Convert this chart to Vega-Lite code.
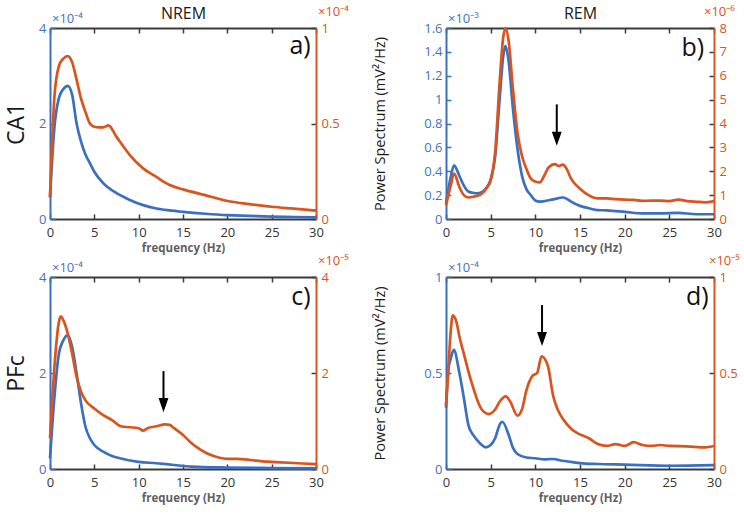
{
  "$schema": "https://vega.github.io/schema/vega-lite/v6.json",
  "background": "white",
  "padding": 5,
  "config": {
    "view": {"stroke": null},
    "font": "Open Sans",
    "axis": {
      "labelFont": "Open Sans",
      "titleFont": "Open Sans",
      "labelFontSize": 13,
      "domainWidth": 2,
      "tickWidth": 1.5,
      "tickSize": -5,
      "labelPadding": 9,
      "grid": false,
      "labelFlush": false,
      "labelOverlap": false
    }
  },
  "datasets": {
    "a_b": [
      {"f":0,"p":0.45},{"f":0.5,"p":1.93},{"f":1,"p":2.53},{"f":1.5,"p":2.72},{"f":2,"p":2.79},{"f":2.5,"p":2.6},{"f":3,"p":2.0},{"f":3.5,"p":1.62},{"f":4,"p":1.35},{"f":4.5,"p":1.17},{"f":5,"p":0.99},{"f":6,"p":0.75},{"f":7.5,"p":0.54},{"f":9,"p":0.4},{"f":10.5,"p":0.29},{"f":12,"p":0.22},{"f":13.5,"p":0.18},{"f":15,"p":0.15},{"f":17.5,"p":0.11},{"f":20,"p":0.08},{"f":22.5,"p":0.065},{"f":25,"p":0.05},{"f":27.5,"p":0.042},{"f":30,"p":0.035}
    ],
    "a_o": [
      {"f":0,"p":0.116},{"f":0.5,"p":0.64},{"f":1,"p":0.8},{"f":1.5,"p":0.84},{"f":2,"p":0.853},{"f":2.5,"p":0.82},{"f":3,"p":0.73},{"f":3.5,"p":0.63},{"f":4,"p":0.56},{"f":4.5,"p":0.5},{"f":5,"p":0.483},{"f":5.5,"p":0.48},{"f":6,"p":0.48},{"f":6.6,"p":0.49},{"f":7.5,"p":0.43},{"f":9,"p":0.335},{"f":10.5,"p":0.265},{"f":12,"p":0.22},{"f":13.5,"p":0.178},{"f":15,"p":0.155},{"f":17.5,"p":0.125},{"f":20,"p":0.094},{"f":22.5,"p":0.078},{"f":25,"p":0.064},{"f":27.5,"p":0.054},{"f":30,"p":0.044}
    ],
    "b_b": [
      {"f":0,"p":0.13},{"f":0.5,"p":0.34},{"f":0.9,"p":0.45},{"f":1.5,"p":0.36},{"f":2,"p":0.28},{"f":2.5,"p":0.23},{"f":3,"p":0.22},{"f":3.5,"p":0.215},{"f":4,"p":0.225},{"f":4.5,"p":0.26},{"f":5,"p":0.33},{"f":5.5,"p":0.52},{"f":6,"p":1.0},{"f":6.4,"p":1.36},{"f":6.65,"p":1.45},{"f":7,"p":1.33},{"f":7.5,"p":0.92},{"f":8,"p":0.59},{"f":8.5,"p":0.365},{"f":9,"p":0.25},{"f":9.5,"p":0.2},{"f":10,"p":0.155},{"f":10.5,"p":0.145},{"f":11,"p":0.15},{"f":12,"p":0.165},{"f":13.1,"p":0.18},{"f":13.5,"p":0.17},{"f":14,"p":0.145},{"f":15,"p":0.11},{"f":16,"p":0.09},{"f":17,"p":0.075},{"f":18,"p":0.072},{"f":20,"p":0.06},{"f":22,"p":0.047},{"f":24,"p":0.047},{"f":26,"p":0.052},{"f":28,"p":0.04},{"f":30,"p":0.04}
    ],
    "b_o": [
      {"f":0,"p":0.58},{"f":0.5,"p":1.35},{"f":0.9,"p":1.9},{"f":1.5,"p":1.34},{"f":2,"p":1.0},{"f":2.5,"p":0.9},{"f":3,"p":0.93},{"f":3.5,"p":0.97},{"f":4,"p":1.06},{"f":4.5,"p":1.27},{"f":5,"p":1.62},{"f":5.5,"p":2.79},{"f":6,"p":5.69},{"f":6.4,"p":7.6},{"f":6.65,"p":8.0},{"f":7,"p":7.49},{"f":7.5,"p":5.41},{"f":8,"p":3.62},{"f":8.5,"p":2.65},{"f":9,"p":2.1},{"f":9.5,"p":1.69},{"f":10,"p":1.57},{"f":10.5,"p":1.53},{"f":11,"p":1.82},{"f":11.5,"p":2.17},{"f":12.2,"p":2.3},{"f":12.6,"p":2.22},{"f":13.1,"p":2.28},{"f":13.5,"p":2.1},{"f":14,"p":1.69},{"f":15,"p":1.27},{"f":16,"p":0.99},{"f":17,"p":0.86},{"f":18,"p":0.86},{"f":19,"p":0.83},{"f":20,"p":0.81},{"f":21,"p":0.8},{"f":22,"p":0.76},{"f":23,"p":0.77},{"f":24,"p":0.77},{"f":25,"p":0.75},{"f":26,"p":0.81},{"f":27,"p":0.75},{"f":28,"p":0.72},{"f":29,"p":0.7},{"f":30,"p":0.75}
    ],
    "c_b": [
      {"f":0,"p":0.22},{"f":0.5,"p":1.5},{"f":1,"p":2.4},{"f":1.5,"p":2.68},{"f":2,"p":2.79},{"f":2.5,"p":2.54},{"f":3,"p":1.99},{"f":3.5,"p":1.37},{"f":4,"p":0.88},{"f":4.5,"p":0.64},{"f":5,"p":0.5},{"f":6,"p":0.36},{"f":7,"p":0.27},{"f":8,"p":0.22},{"f":10,"p":0.15},{"f":12,"p":0.12},{"f":14,"p":0.083},{"f":16,"p":0.05},{"f":20,"p":0.03},{"f":25,"p":0.02},{"f":30,"p":0.014}
    ],
    "c_o": [
      {"f":0,"p":0.64},{"f":0.5,"p":2.13},{"f":1,"p":3.06},{"f":1.2,"p":3.18},{"f":1.5,"p":3.1},{"f":2,"p":2.82},{"f":2.5,"p":2.4},{"f":3,"p":1.92},{"f":3.5,"p":1.61},{"f":4,"p":1.43},{"f":5,"p":1.26},{"f":6,"p":1.12},{"f":7,"p":1.02},{"f":8,"p":0.89},{"f":9,"p":0.87},{"f":10,"p":0.85},{"f":10.5,"p":0.8},{"f":11,"p":0.85},{"f":12,"p":0.89},{"f":13,"p":0.93},{"f":13.5,"p":0.92},{"f":14,"p":0.85},{"f":15,"p":0.71},{"f":16,"p":0.53},{"f":17,"p":0.4},{"f":18,"p":0.3},{"f":19,"p":0.24},{"f":20,"p":0.21},{"f":21,"p":0.21},{"f":22,"p":0.2},{"f":23,"p":0.18},{"f":24,"p":0.16},{"f":25,"p":0.15},{"f":27,"p":0.13},{"f":30,"p":0.1}
    ],
    "d_b": [
      {"f":0,"p":0.32},{"f":0.3,"p":0.53},{"f":0.5,"p":0.57},{"f":0.87,"p":0.62},{"f":1.5,"p":0.5},{"f":2,"p":0.37},{"f":2.5,"p":0.23},{"f":3,"p":0.18},{"f":3.5,"p":0.15},{"f":4,"p":0.125},{"f":4.4,"p":0.113},{"f":5,"p":0.125},{"f":5.5,"p":0.16},{"f":6,"p":0.23},{"f":6.3,"p":0.246},{"f":7,"p":0.18},{"f":7.5,"p":0.11},{"f":8,"p":0.078},{"f":9,"p":0.06},{"f":10,"p":0.056},{"f":11,"p":0.05},{"f":12,"p":0.052},{"f":13,"p":0.043},{"f":14,"p":0.037},{"f":15,"p":0.031},{"f":17,"p":0.026},{"f":20,"p":0.023},{"f":25,"p":0.017},{"f":30,"p":0.02}
    ],
    "d_o": [
      {"f":0,"p":0.33},{"f":0.3,"p":0.55},{"f":0.5,"p":0.7},{"f":0.75,"p":0.8},{"f":1.2,"p":0.76},{"f":1.5,"p":0.69},{"f":2,"p":0.6},{"f":2.5,"p":0.51},{"f":3,"p":0.43},{"f":3.5,"p":0.36},{"f":4,"p":0.31},{"f":4.8,"p":0.286},{"f":5.5,"p":0.31},{"f":6,"p":0.35},{"f":6.7,"p":0.378},{"f":7.2,"p":0.35},{"f":8,"p":0.278},{"f":8.5,"p":0.31},{"f":9,"p":0.41},{"f":9.7,"p":0.486},{"f":10.2,"p":0.5},{"f":10.7,"p":0.587},{"f":11.4,"p":0.538},{"f":12,"p":0.38},{"f":12.5,"p":0.31},{"f":13.1,"p":0.26},{"f":14,"p":0.21},{"f":14.6,"p":0.19},{"f":16,"p":0.16},{"f":17,"p":0.13},{"f":18,"p":0.12},{"f":19,"p":0.13},{"f":20,"p":0.12},{"f":21,"p":0.14},{"f":22,"p":0.125},{"f":23,"p":0.12},{"f":24,"p":0.125},{"f":25,"p":0.12},{"f":27,"p":0.118},{"f":29,"p":0.113},{"f":30,"p":0.12}
    ]
  },
  "columns": 2,
  "spacing": {"row": 58, "column": 130},
  "bounds": "flush",
  "concat": [
    {
      "width": 266, "height": 191,
      "resolve": {"scale": {"y": "independent"}, "axis": {"x": "independent"}},
      "layer": [
        {
          "layer": [
            {
              "data": {"name": "a_b"},
              "mark": {"type": "line", "color": "#3B6FBF", "strokeWidth": 2.7, "interpolate": "monotone"},
              "encoding": {
                "x": {"field": "f", "type": "quantitative", "scale": {"domain": [0, 30], "nice": false},
                  "axis": {"orient": "bottom", "values": [0,5,10,15,20,25,30], "tickCount": 10, "title": "frequency (Hz)", "domainColor": "#3b3b3b", "tickColor": "#3b3b3b", "labelColor": "#333333", "titleColor": "#5f5f5f", "titleFontWeight": "bold", "titleFontSize": 11.5, "titlePadding": 3, "labelPadding": 12, "labelOverlap": false}},
                "y": {"field": "p", "type": "quantitative", "scale": {"domain": [0, 4], "nice": false},
                  "axis": {"orient": "left", "values": [0,2,4], "tickCount": 10, "format": "~g", "title": "CA1", "titleFontSize": 23, "titleFontWeight": "normal", "titleColor": "#1a1a1a", "titlePadding": 10, "domainColor": "#3B6FBF", "tickColor": "#3B6FBF", "labelColor": "#4472C0", "labelOverlap": false}}
              }
            },
            {
              "data": {"values": [{"f": 29.4, "p": 3.62, "t": "a)"}]},
              "mark": {"type": "text", "align": "right", "baseline": "middle", "fontSize": 25, "color": "#111111"},
              "encoding": {"x": {"field": "f", "type": "quantitative"}, "y": {"field": "p", "type": "quantitative"}, "text": {"field": "t"}}
            },
            {
              "data": {"values": [{"f": 0, "p": 4, "t": "×10⁻⁴"}]},
              "mark": {"type": "text", "align": "left", "baseline": "alphabetic", "dx": 2, "dy": -5, "fontSize": 13, "color": "#4472C0"},
              "encoding": {"x": {"field": "f", "type": "quantitative"}, "y": {"field": "p", "type": "quantitative"}, "text": {"field": "t"}}
            }
          ]
        },
        {
          "layer": [
            {
              "data": {"name": "a_o"},
              "mark": {"type": "line", "color": "#D9541E", "strokeWidth": 2.7, "interpolate": "monotone"},
              "encoding": {
                "x": {"field": "f", "type": "quantitative", "scale": {"domain": [0, 30], "nice": false},
                  "axis": {"orient": "top", "values": [0,5,10,15,20,25,30], "tickCount": 10, "labels": false, "title": "NREM", "titleFontSize": 16, "titleFontWeight": "normal", "titleColor": "#1a1a1a", "titlePadding": 6, "domainColor": "#3b3b3b", "tickColor": "#3b3b3b"}},
                "y": {"field": "p", "type": "quantitative", "scale": {"domain": [0, 1], "nice": false},
                  "axis": {"orient": "right", "values": [0,0.5,1], "tickCount": 10, "format": "~g", "title": null, "domainColor": "#D9541E", "tickColor": "#3b3b3b", "labelColor": "#D9541E", "labelPadding": 10, "labelOverlap": false}}
              }
            },
            {
              "data": {"values": [{"f": 30, "p": 1, "t": "×10⁻⁴"}]},
              "mark": {"type": "text", "align": "left", "baseline": "alphabetic", "dx": 2, "dy": -12, "fontSize": 13, "color": "#D9541E"},
              "encoding": {"x": {"field": "f", "type": "quantitative"}, "y": {"field": "p", "type": "quantitative"}, "text": {"field": "t"}}
            }
          ]
        }
      ]
    },
    {
      "width": 268, "height": 191,
      "resolve": {"scale": {"y": "independent"}, "axis": {"x": "independent"}},
      "layer": [
        {
          "layer": [
            {
              "data": {"name": "b_b"},
              "mark": {"type": "line", "color": "#3B6FBF", "strokeWidth": 2.7, "interpolate": "monotone"},
              "encoding": {
                "x": {"field": "f", "type": "quantitative", "scale": {"domain": [0, 30], "nice": false},
                  "axis": {"orient": "bottom", "values": [0,5,10,15,20,25,30], "tickCount": 10, "title": "frequency (Hz)", "domainColor": "#3b3b3b", "tickColor": "#3b3b3b", "labelColor": "#333333", "titleColor": "#5f5f5f", "titleFontWeight": "bold", "titleFontSize": 11.5, "titlePadding": 3, "labelPadding": 12, "labelOverlap": false}},
                "y": {"field": "p", "type": "quantitative", "scale": {"domain": [0, 1.6], "nice": false},
                  "axis": {"orient": "left", "values": [0,0.2,0.4,0.6,0.8,1,1.2,1.4,1.6], "tickCount": 12, "format": "~g", "title": "Power Spectrum (mV²/Hz)", "titleFontSize": 14.5, "titleFontWeight": "normal", "titleColor": "#1a1a1a", "titlePadding": 36, "domainColor": "#3B6FBF", "tickColor": "#3B6FBF", "labelColor": "#4472C0", "labelOverlap": false}}
              }
            },
            {
              "data": {"values": [{"f": 28.9, "p": 1.43, "t": "b)"}]},
              "mark": {"type": "text", "align": "right", "baseline": "middle", "fontSize": 25, "color": "#111111"},
              "encoding": {"x": {"field": "f", "type": "quantitative"}, "y": {"field": "p", "type": "quantitative"}, "text": {"field": "t"}}
            },
            {
              "data": {"values": [{"f": 0, "p": 1.6, "t": "×10⁻³"}]},
              "mark": {"type": "text", "align": "left", "baseline": "alphabetic", "dx": 2, "dy": -5, "fontSize": 13, "color": "#4472C0"},
              "encoding": {"x": {"field": "f", "type": "quantitative"}, "y": {"field": "p", "type": "quantitative"}, "text": {"field": "t"}}
            },
            {
              "data": {"values": [{"f": 12.4, "p": 0.96, "p2": 0.71}]},
              "mark": {"type": "rule", "color": "#000000", "strokeWidth": 2},
              "encoding": {"x": {"field": "f", "type": "quantitative"}, "y": {"field": "p", "type": "quantitative"}, "y2": {"field": "p2"}}
            },
            {
              "data": {"values": [{"f": 12.4, "p": 0.672}]},
              "mark": {"type": "point", "shape": "M-0.7,-1L0.7,-1L0,1Z", "filled": true, "opacity": 1, "color": "#000000", "size": 200},
              "encoding": {"x": {"field": "f", "type": "quantitative"}, "y": {"field": "p", "type": "quantitative"}}
            }
          ]
        },
        {
          "layer": [
            {
              "data": {"name": "b_o"},
              "mark": {"type": "line", "color": "#D9541E", "strokeWidth": 2.7, "interpolate": "monotone"},
              "encoding": {
                "x": {"field": "f", "type": "quantitative", "scale": {"domain": [0, 30], "nice": false},
                  "axis": {"orient": "top", "values": [0,5,10,15,20,25,30], "tickCount": 10, "labels": false, "title": "REM", "titleFontSize": 16, "titleFontWeight": "normal", "titleColor": "#1a1a1a", "titlePadding": 6, "domainColor": "#3b3b3b", "tickColor": "#3b3b3b"}},
                "y": {"field": "p", "type": "quantitative", "scale": {"domain": [0, 8], "nice": false},
                  "axis": {"orient": "right", "values": [0,1,2,3,4,5,6,7,8], "tickCount": 12, "format": "~g", "title": null, "domainColor": "#D9541E", "tickColor": "#3b3b3b", "labelColor": "#D9541E", "labelPadding": 10, "labelOverlap": false}}
              }
            },
            {
              "data": {"values": [{"f": 30, "p": 8, "t": "×10⁻⁶"}]},
              "mark": {"type": "text", "align": "left", "baseline": "alphabetic", "dx": -10, "dy": -12, "fontSize": 13, "color": "#D9541E"},
              "encoding": {"x": {"field": "f", "type": "quantitative"}, "y": {"field": "p", "type": "quantitative"}, "text": {"field": "t"}}
            }
          ]
        }
      ]
    },
    {
      "width": 266, "height": 192,
      "resolve": {"scale": {"y": "independent"}, "axis": {"x": "independent"}},
      "layer": [
        {
          "layer": [
            {
              "data": {"name": "c_b"},
              "mark": {"type": "line", "color": "#3B6FBF", "strokeWidth": 2.7, "interpolate": "monotone"},
              "encoding": {
                "x": {"field": "f", "type": "quantitative", "scale": {"domain": [0, 30], "nice": false},
                  "axis": {"orient": "bottom", "values": [0,5,10,15,20,25,30], "tickCount": 10, "title": "frequency (Hz)", "domainColor": "#3b3b3b", "tickColor": "#3b3b3b", "labelColor": "#333333", "titleColor": "#5f5f5f", "titleFontWeight": "bold", "titleFontSize": 11.5, "titlePadding": 3, "labelPadding": 12, "labelOverlap": false}},
                "y": {"field": "p", "type": "quantitative", "scale": {"domain": [0, 4], "nice": false},
                  "axis": {"orient": "left", "values": [0,2,4], "tickCount": 10, "format": "~g", "title": "PFc", "titleFontSize": 23, "titleFontWeight": "normal", "titleColor": "#1a1a1a", "titlePadding": 10, "domainColor": "#3B6FBF", "tickColor": "#3B6FBF", "labelColor": "#4472C0", "labelOverlap": false}}
              }
            },
            {
              "data": {"values": [{"f": 29.4, "p": 3.58, "t": "c)"}]},
              "mark": {"type": "text", "align": "right", "baseline": "middle", "fontSize": 25, "color": "#111111"},
              "encoding": {"x": {"field": "f", "type": "quantitative"}, "y": {"field": "p", "type": "quantitative"}, "text": {"field": "t"}}
            },
            {
              "data": {"values": [{"f": 0, "p": 4, "t": "×10⁻⁴"}]},
              "mark": {"type": "text", "align": "left", "baseline": "alphabetic", "dx": 2, "dy": -5, "fontSize": 13, "color": "#4472C0"},
              "encoding": {"x": {"field": "f", "type": "quantitative"}, "y": {"field": "p", "type": "quantitative"}, "text": {"field": "t"}}
            },
            {
              "data": {"values": [{"f": 12.8, "p": 2.04, "p2": 1.46}]},
              "mark": {"type": "rule", "color": "#000000", "strokeWidth": 2},
              "encoding": {"x": {"field": "f", "type": "quantitative"}, "y": {"field": "p", "type": "quantitative"}, "y2": {"field": "p2"}}
            },
            {
              "data": {"values": [{"f": 12.8, "p": 1.33}]},
              "mark": {"type": "point", "shape": "M-0.7,-1L0.7,-1L0,1Z", "filled": true, "opacity": 1, "color": "#000000", "size": 200},
              "encoding": {"x": {"field": "f", "type": "quantitative"}, "y": {"field": "p", "type": "quantitative"}}
            }
          ]
        },
        {
          "layer": [
            {
              "data": {"name": "c_o"},
              "mark": {"type": "line", "color": "#D9541E", "strokeWidth": 2.7, "interpolate": "monotone"},
              "encoding": {
                "x": {"field": "f", "type": "quantitative", "scale": {"domain": [0, 30], "nice": false},
                  "axis": {"orient": "top", "values": [0,5,10,15,20,25,30], "tickCount": 10, "labels": false, "title": null, "domainColor": "#3b3b3b", "tickColor": "#3b3b3b"}},
                "y": {"field": "p", "type": "quantitative", "scale": {"domain": [0, 4], "nice": false},
                  "axis": {"orient": "right", "values": [0,2,4], "tickCount": 10, "format": "~g", "title": null, "domainColor": "#D9541E", "tickColor": "#3b3b3b", "labelColor": "#D9541E", "labelPadding": 10, "labelOverlap": false}}
              }
            },
            {
              "data": {"values": [{"f": 30, "p": 4, "t": "×10⁻⁵"}]},
              "mark": {"type": "text", "align": "left", "baseline": "alphabetic", "dx": 2, "dy": -12, "fontSize": 13, "color": "#D9541E"},
              "encoding": {"x": {"field": "f", "type": "quantitative"}, "y": {"field": "p", "type": "quantitative"}, "text": {"field": "t"}}
            }
          ]
        }
      ]
    },
    {
      "width": 268, "height": 192,
      "resolve": {"scale": {"y": "independent"}, "axis": {"x": "independent"}},
      "layer": [
        {
          "layer": [
            {
              "data": {"name": "d_b"},
              "mark": {"type": "line", "color": "#3B6FBF", "strokeWidth": 2.7, "interpolate": "monotone"},
              "encoding": {
                "x": {"field": "f", "type": "quantitative", "scale": {"domain": [0, 30], "nice": false},
                  "axis": {"orient": "bottom", "values": [0,5,10,15,20,25,30], "tickCount": 10, "title": "frequency (Hz)", "domainColor": "#3b3b3b", "tickColor": "#3b3b3b", "labelColor": "#333333", "titleColor": "#5f5f5f", "titleFontWeight": "bold", "titleFontSize": 11.5, "titlePadding": 3, "labelPadding": 12, "labelOverlap": false}},
                "y": {"field": "p", "type": "quantitative", "scale": {"domain": [0, 1], "nice": false},
                  "axis": {"orient": "left", "values": [0,0.5,1], "tickCount": 10, "format": "~g", "title": "Power Spectrum (mV²/Hz)", "titleFontSize": 14.5, "titleFontWeight": "normal", "titleColor": "#1a1a1a", "titlePadding": 36, "domainColor": "#3B6FBF", "tickColor": "#3B6FBF", "labelColor": "#4472C0", "labelOverlap": false}}
              }
            },
            {
              "data": {"values": [{"f": 29.4, "p": 0.896, "t": "d)"}]},
              "mark": {"type": "text", "align": "right", "baseline": "middle", "fontSize": 25, "color": "#111111"},
              "encoding": {"x": {"field": "f", "type": "quantitative"}, "y": {"field": "p", "type": "quantitative"}, "text": {"field": "t"}}
            },
            {
              "data": {"values": [{"f": 0, "p": 1, "t": "×10⁻⁴"}]},
              "mark": {"type": "text", "align": "left", "baseline": "alphabetic", "dx": 2, "dy": -5, "fontSize": 13, "color": "#4472C0"},
              "encoding": {"x": {"field": "f", "type": "quantitative"}, "y": {"field": "p", "type": "quantitative"}, "text": {"field": "t"}}
            },
            {
              "data": {"values": [{"f": 10.75, "p": 0.854, "p2": 0.714}]},
              "mark": {"type": "rule", "color": "#000000", "strokeWidth": 2},
              "encoding": {"x": {"field": "f", "type": "quantitative"}, "y": {"field": "p", "type": "quantitative"}, "y2": {"field": "p2"}}
            },
            {
              "data": {"values": [{"f": 10.75, "p": 0.677}]},
              "mark": {"type": "point", "shape": "M-0.7,-1L0.7,-1L0,1Z", "filled": true, "opacity": 1, "color": "#000000", "size": 200},
              "encoding": {"x": {"field": "f", "type": "quantitative"}, "y": {"field": "p", "type": "quantitative"}}
            }
          ]
        },
        {
          "layer": [
            {
              "data": {"name": "d_o"},
              "mark": {"type": "line", "color": "#D9541E", "strokeWidth": 2.7, "interpolate": "monotone"},
              "encoding": {
                "x": {"field": "f", "type": "quantitative", "scale": {"domain": [0, 30], "nice": false},
                  "axis": {"orient": "top", "values": [0,5,10,15,20,25,30], "tickCount": 10, "labels": false, "title": null, "domainColor": "#3b3b3b", "tickColor": "#3b3b3b"}},
                "y": {"field": "p", "type": "quantitative", "scale": {"domain": [0, 1], "nice": false},
                  "axis": {"orient": "right", "values": [0,0.5,1], "tickCount": 10, "format": "~g", "title": null, "domainColor": "#D9541E", "tickColor": "#3b3b3b", "labelColor": "#D9541E", "labelPadding": 10, "labelOverlap": false}}
              }
            },
            {
              "data": {"values": [{"f": 30, "p": 1, "t": "×10⁻⁵"}]},
              "mark": {"type": "text", "align": "left", "baseline": "alphabetic", "dx": -5, "dy": -12, "fontSize": 13, "color": "#D9541E"},
              "encoding": {"x": {"field": "f", "type": "quantitative"}, "y": {"field": "p", "type": "quantitative"}, "text": {"field": "t"}}
            }
          ]
        }
      ]
    }
  ]
}
